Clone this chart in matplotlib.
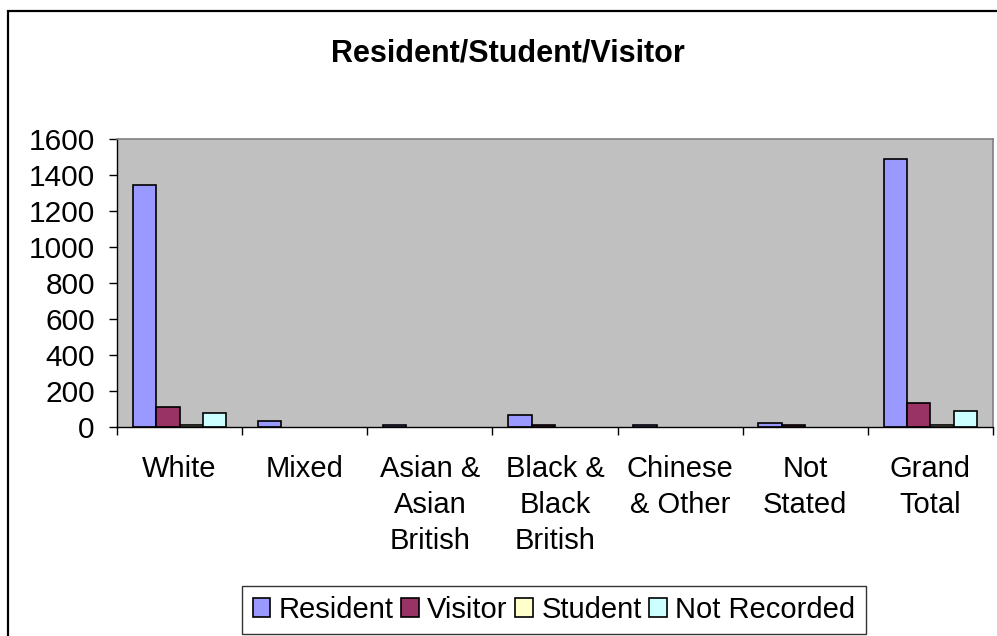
import numpy as np
import matplotlib
matplotlib.use('Agg')
import matplotlib.pyplot as plt
from matplotlib.patches import Rectangle

#data
categories = ['White', 'Mixed', 'Asian &\nAsian\nBritish', 'Black &\nBlack\nBritish',
              'Chinese\n& Other', 'Not\nStated', 'Grand\nTotal']
resident = [1345, 35, 12, 68, 10, 25, 1490]
visitor = [112, 0, 0, 10, 0, 10, 133]
student = [12, 0, 0, 0, 0, 0, 12]
not_recorded = [80, 0, 0, 0, 0, 0, 90]
series_names = ['Resident', 'Visitor', 'Student', 'Not Recorded']
series_colors = ['#9999FF', '#993366', '#FFFFCC', '#CCFFFF']
yticks = [0, 200, 400, 600, 800, 1000, 1200, 1400, 1600]

plt.rcParams['font.family'] = ['Liberation Sans', 'DejaVu Sans']
fs = 21

fig = plt.figure(figsize=(9.97, 6.36), dpi=100)
ax = fig.add_axes([117/997, 1-427/636, (993-117)/997, (427-139)/636])
ax.set_facecolor('#C0C0C0')

#bars
x = np.arange(len(categories))
bw = 0.187
allvals = [resident, visitor, student, not_recorded]
bars = []
for i in range(4):
    b = ax.bar(x - 1.5*bw + i*bw, allvals[i], width=bw, color=series_colors[i],
               edgecolor='black', linewidth=1.2, label=series_names[i])
    # excel leaves empty values out
    for rect, v in zip(b, allvals[i]):
        if v == 0:
            rect.set_visible(False)
    bars.append(b)

#axes
ax.set_xlim(-0.5, len(categories) - 0.5)
ax.set_ylim(0, 1600)
ax.set_yticks(yticks)
ax.set_yticklabels([str(v) for v in yticks], fontsize=fs + 0.5)
ax.set_xticks(np.arange(len(categories) + 1) - 0.5)
ax.set_xticklabels([])
ax.set_xticks(x, minor=True)
ax.set_xticklabels(categories, minor=True, fontsize=fs, linespacing=1.36)
ax.tick_params(axis='x', which='minor', length=0, pad=20)
ax.tick_params(axis='x', which='major', length=6, width=1, direction='out')
ax.tick_params(axis='y', length=6, width=1, direction='out', pad=10)

for s in ['top', 'right']:
    ax.spines[s].set_color('#808080')
    ax.spines[s].set_linewidth(1.2)
for s in ['left', 'bottom']:
    ax.spines[s].set_color('black')
    ax.spines[s].set_linewidth(1)

#title
fig.text(508/997, 1-54/636, 'Resident/Student/Visitor', fontsize=22, fontweight='bold',
         ha='center', va='center')

#legend
leg = fig.legend(handles=bars, labels=series_names, loc='center', bbox_to_anchor=(554/997, 1-610/636),
                 ncol=4, fontsize=fs, frameon=True, fancybox=False, handlelength=0.6,
                 handleheight=0.6, handletextpad=0.3, columnspacing=0.25, borderpad=0.35,
                 borderaxespad=0)
leg.get_frame().set_edgecolor('black')
leg.get_frame().set_linewidth(1)

#outer chart border
border = Rectangle((8/997, -0.05), 1.1, 1 - 11/636 + 0.05, transform=fig.transFigure,
                   fill=False, edgecolor='black', linewidth=1.6, clip_on=False)
fig.patches.append(border)

plt.savefig('out.png', dpi=100)
plt.close()
